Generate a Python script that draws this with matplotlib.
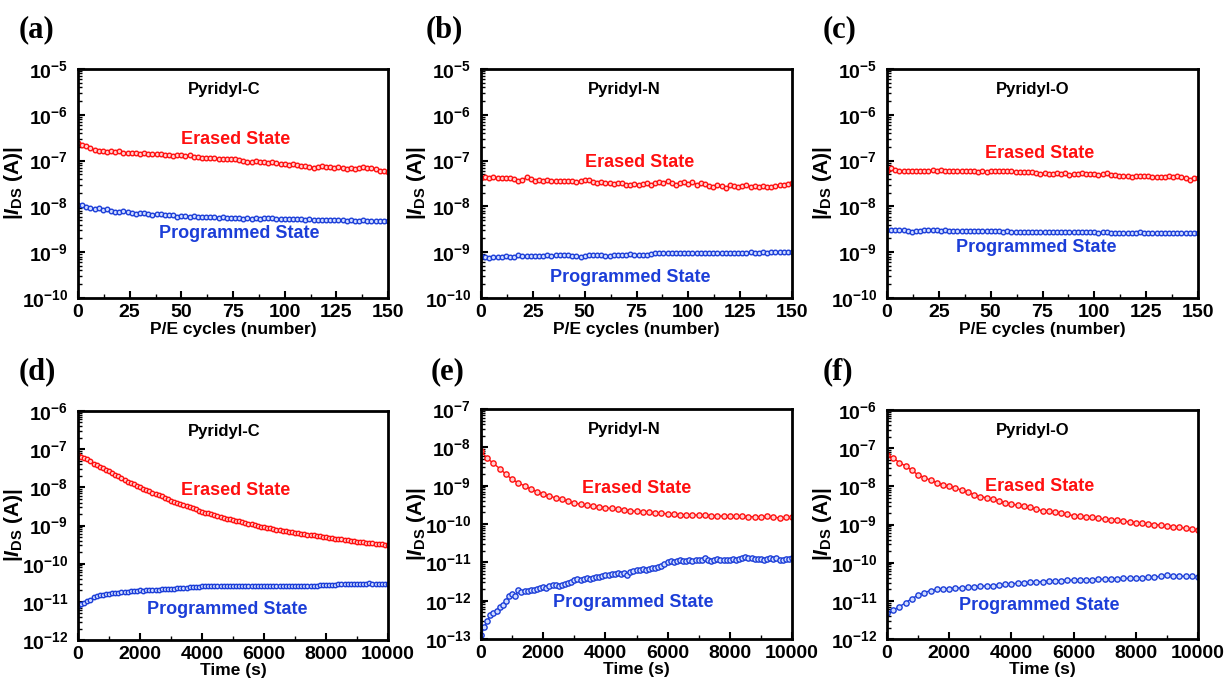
import numpy as np
import matplotlib
matplotlib.use("Agg")
import matplotlib.pyplot as plt
from matplotlib.ticker import MultipleLocator, FixedLocator, NullFormatter, FuncFormatter

plt.rcParams['font.family'] = ['Liberation Sans', 'DejaVu Sans']
plt.rcParams['font.weight'] = 'bold'
plt.rcParams['mathtext.fontset'] = 'custom'
plt.rcParams['mathtext.rm'] = 'Liberation Sans:bold'
plt.rcParams['mathtext.bf'] = 'Liberation Sans:bold'
plt.rcParams['mathtext.it'] = 'Liberation Sans:bold:italic'

# ---------------- data ----------------
cycles = np.arange(0, 151, 2)
time_100 = np.arange(0, 10001, 100)
time_200 = np.arange(0, 10001, 200)

a_erased = np.array([2.4, 2.2, 2.05, 1.9, 1.7, 1.6, 1.62, 1.58, 1.6, 1.55, 1.6, 1.5, 1.45, 1.48, 1.46, 1.42,
    1.45, 1.4, 1.38, 1.42, 1.36, 1.34, 1.3, 1.28, 1.32, 1.3, 1.28, 1.3, 1.22, 1.18, 1.15, 1.12, 1.14, 1.12,
    1.1, 1.08, 1.1, 1.06, 1.08, 1.02, 0.96, 0.92, 0.95, 0.97, 0.94, 0.92, 0.9, 0.92, 0.88, 0.85, 0.84, 0.82,
    0.86, 0.8, 0.78, 0.76, 0.74, 0.7, 0.72, 0.75, 0.74, 0.72, 0.7, 0.72, 0.68, 0.66, 0.68, 0.64, 0.7, 0.72,
    0.68, 0.7, 0.66, 0.6, 0.58, 0.55]) * 1e-7
a_programmed = np.array([11, 10.5, 9.8, 9.2, 8.6, 9.0, 8.4, 8.6, 7.8, 7.4, 7.6, 7.8, 7.5, 7.2, 6.9, 7.0, 7.1,
    6.9, 6.6, 6.8, 6.7, 6.5, 6.6, 6.4, 6.0, 6.2, 6.3, 6.0, 6.1, 5.9, 6.0, 5.8, 5.9, 5.8, 5.7, 5.8, 5.6, 5.7,
    5.5, 5.6, 5.3, 5.5, 5.4, 5.5, 5.4, 5.5, 5.6, 5.5, 5.4, 5.3, 5.3, 5.2, 5.3, 5.2, 5.2, 5.1, 5.2, 5.1, 5.1,
    5.0, 5.1, 5.0, 5.0, 5.1, 5.0, 4.9, 5.0, 4.9, 4.9, 5.0, 4.9, 4.9, 4.8, 4.9, 4.8, 4.8]) * 1e-9

b_erased = np.array([4.2, 4.3, 4.1, 4.4, 4.2, 4.1, 4.2, 4.1, 3.9, 3.5, 3.8, 4.3, 4.0, 3.6, 3.7, 3.6, 3.7,
    3.5, 3.6, 3.5, 3.6, 3.5, 3.6, 3.4, 3.5, 3.7, 3.8, 3.4, 3.3, 3.4, 3.3, 3.2, 3.1, 3.3, 3.2, 3.0, 2.9, 3.1,
    3.0, 3.1, 3.2, 3.0, 3.2, 3.4, 3.3, 3.6, 3.2, 3.0, 3.3, 3.4, 3.1, 3.4, 3.0, 3.2, 3.1, 2.8, 2.6, 3.0, 2.8,
    2.5, 2.9, 2.8, 2.6, 2.8, 2.9, 2.7, 2.8, 2.6, 2.8, 2.7, 2.6, 2.8, 2.9, 3.0, 3.1, 3.2]) * 1e-8
b_programmed = np.array([8.3, 8.0, 7.5, 8.0, 7.9, 8.0, 8.1, 8.0, 7.7, 8.6, 8.4, 8.2, 8.3, 8.3, 8.4, 8.3,
    8.5, 8.4, 8.5, 8.6, 8.5, 8.5, 8.4, 8.3, 7.8, 8.2, 8.6, 8.5, 8.8, 8.6, 8.4, 8.2, 8.5, 8.6, 8.7, 8.8, 9.0,
    8.7, 8.8, 8.9, 8.8, 9.1, 9.4, 9.5, 9.4, 9.5, 9.6, 9.5, 9.6, 9.5, 9.6, 9.7, 9.6, 9.7, 9.6, 9.7, 9.8, 9.7,
    9.6, 9.7, 9.8, 9.7, 9.8, 9.7, 9.8, 9.9, 9.8, 9.8, 9.9, 9.8, 9.9, 10.0, 9.9, 10.0, 10.0, 10.0]) * 1e-10

c_erased = np.array([6.0, 6.8, 6.2, 5.8, 6.0, 5.9, 6.0, 5.9, 6.0, 5.9, 5.9, 6.1, 6.0, 6.1, 6.0, 5.9, 5.9,
    5.8, 5.9, 5.9, 5.8, 5.8, 5.6, 5.9, 5.7, 5.8, 5.8, 5.8, 5.9, 6.0, 5.8, 5.7, 5.5, 5.5, 5.5, 5.6, 5.4, 5.2,
    5.3, 5.2, 5.2, 5.3, 5.2, 5.4, 4.9, 5.1, 5.2, 5.3, 5.0, 5.0, 5.0, 4.9, 5.0, 5.3, 4.8, 4.9, 4.6, 4.6, 4.6,
    4.3, 4.5, 4.6, 4.5, 4.6, 4.4, 4.3, 4.4, 4.3, 4.5, 4.4, 4.5, 4.3, 4.1, 3.8, 4.1, 4.2]) * 1e-8
c_programmed = np.array([3.1, 3.1, 3.0, 3.0, 3.0, 2.9, 2.8, 2.9, 2.9, 3.1, 3.1, 3.1, 3.0, 2.9, 3.0, 2.9,
    2.9, 2.9, 2.9, 2.9, 2.9, 2.9, 2.9, 2.85, 2.85, 2.85, 2.85, 2.85, 2.8, 2.85, 2.8, 2.8, 2.75, 2.8, 2.7,
    2.75, 2.75, 2.7, 2.7, 2.7, 2.7, 2.7, 2.7, 2.7, 2.7, 2.7, 2.7, 2.75, 2.7, 2.7, 2.7, 2.65, 2.7, 2.7, 2.65,
    2.65, 2.6, 2.65, 2.6, 2.6, 2.65, 2.7, 2.65, 2.6, 2.6, 2.65, 2.6, 2.6, 2.6, 2.65, 2.6, 2.6, 2.6, 2.6,
    2.6, 2.65]) * 1e-9

d_erased = np.array([70, 64, 59, 54, 48, 42, 39, 35, 32, 29, 26,
    23.5, 21.5, 19.5, 17.5, 15.5, 14.2, 13, 11.9, 10.9, 10,
    9.3, 8.6, 7.9, 7.3, 6.8, 6.3, 5.8, 5.3, 4.9, 4.5,
    4.2, 3.95, 3.7, 3.45, 3.25, 3.05, 2.85, 2.65, 2.45, 2.3,
    2.18, 2.07, 1.96, 1.86, 1.77, 1.68, 1.6, 1.52, 1.45, 1.38,
    1.33, 1.28, 1.22, 1.17, 1.12, 1.07, 1.03, 0.98, 0.94, 0.90,
    0.87, 0.84, 0.81, 0.78, 0.75, 0.72, 0.70, 0.68, 0.66, 0.64,
    0.625, 0.61, 0.595, 0.58, 0.565, 0.55, 0.535, 0.52, 0.505, 0.49,
    0.478, 0.466, 0.454, 0.442, 0.43, 0.419, 0.408, 0.397, 0.386, 0.375,
    0.368, 0.361, 0.354, 0.347, 0.34, 0.334, 0.328, 0.322, 0.316, 0.31]) * 1e-9
d_programmed = np.array([0.8, 0.9, 0.95, 1.05, 1.15, 1.3, 1.4, 1.5, 1.55, 1.6, 1.65,
    1.7, 1.72, 1.75, 1.78, 1.8, 1.85, 1.88, 1.9, 1.95, 2.0,
    1.98, 2.02, 2.05, 2.03, 2.08, 2.1, 2.12, 2.15, 2.18, 2.2,
    2.22, 2.28, 2.3, 2.32, 2.36, 2.4, 2.42, 2.45, 2.48, 2.55,
    2.58, 2.6, 2.6, 2.58, 2.6, 2.62, 2.6, 2.58, 2.6, 2.62,
    2.6, 2.58, 2.6, 2.62, 2.6, 2.58, 2.6, 2.6, 2.62, 2.6,
    2.58, 2.6, 2.62, 2.6, 2.58, 2.6, 2.6, 2.62, 2.6, 2.58,
    2.6, 2.62, 2.65, 2.62, 2.6, 2.62, 2.65, 2.7, 2.72, 2.75,
    2.78, 2.8, 2.82, 2.85, 2.88, 2.9, 2.92, 2.95, 2.98, 3.0,
    3.02, 3.0, 3.02, 3.05, 3.02, 3.0, 3.02, 2.95, 2.9, 2.85]) * 1e-11

e_erased = np.array([79, 52, 38, 28, 20, 14.5, 12, 9.8, 8.2, 7.0, 6.0,
    5.4, 4.8, 4.4, 3.9, 3.5, 3.3, 3.1, 2.9, 2.8, 2.65,
    2.55, 2.45, 2.35, 2.2, 2.15, 2.1, 2.05, 1.95, 1.9, 1.85,
    1.8, 1.75, 1.75, 1.72, 1.7, 1.72, 1.65, 1.62, 1.6, 1.6,
    1.58, 1.6, 1.55, 1.55, 1.55, 1.58, 1.5, 1.45, 1.48, 1.5]) * 1e-10
e_programmed = np.array([0.125, 0.2, 0.29, 0.42, 0.47, 0.55, 0.68, 0.78, 1.0, 1.3, 1.5,
    1.35, 1.9, 1.7, 1.8, 1.75, 1.9, 1.95, 2.0, 2.1, 2.3,
    2.2, 2.4, 2.5, 2.6, 2.4, 2.55, 2.7, 2.9, 3.0, 3.4,
    3.6, 3.5, 3.7, 3.8, 3.6, 3.9, 4.1, 4.2, 4.4, 4.8,
    4.6, 4.9, 5.0, 5.2, 5.1, 5.3, 4.7, 5.5, 5.8, 6.2,
    6.4, 6.6, 6.5, 6.8, 7.0, 7.3, 7.6, 8.1, 9.0, 10.5,
    11.0, 10.5, 10.8, 11.2, 10.6, 11.0, 11.4, 11.0, 11.3, 11.6,
    11.2, 12.8, 11.4, 11.0, 11.8, 12.2, 11.5, 11.2, 11.6, 11.8,
    12.0, 11.6, 12.2, 12.6, 13.8, 13.2, 12.8, 12.4, 12.0, 12.2,
    11.8, 12.4, 12.8, 12.2, 12.6, 11.4, 11.8, 12.0, 12.4, 12.6]) * 1e-12

f_erased = np.array([67, 55, 42, 34, 26, 20, 17, 14.5, 12.5, 11, 10,
    9.0, 8.0, 7.0, 6.1, 5.4, 5.0, 4.6, 4.1, 3.7, 3.4,
    3.2, 3.0, 2.8, 2.5, 2.3, 2.2, 2.1, 2.0, 1.85, 1.7,
    1.65, 1.6, 1.55, 1.45, 1.38, 1.33, 1.28, 1.22, 1.17, 1.12,
    1.08, 1.04, 1.0, 0.96, 0.92, 0.88, 0.84, 0.8, 0.76, 0.72]) * 1e-9
f_programmed = np.array([0.49, 0.58, 0.7, 0.9, 1.15, 1.4, 1.65, 1.85, 2.0, 2.05, 2.1,
    2.15, 2.2, 2.25, 2.3, 2.4, 2.45, 2.5, 2.6, 2.7, 2.8,
    2.9, 3.0, 3.05, 3.1, 3.2, 3.3, 3.35, 3.4, 3.45, 3.5,
    3.55, 3.55, 3.6, 3.65, 3.7, 3.75, 3.8, 3.85, 3.9, 4.0,
    4.05, 4.1, 4.2, 4.4, 4.7, 4.5, 4.4, 4.4, 4.35, 4.3]) * 1e-11

panel_letters = ['(a)', '(b)', '(c)', '(d)', '(e)', '(f)']
materials = ['Pyridyl-C', 'Pyridyl-N', 'Pyridyl-O', 'Pyridyl-C', 'Pyridyl-N', 'Pyridyl-O']
y_decades = [(-10, -5), (-10, -5), (-10, -5), (-12, -6), (-13, -7), (-12, -6)]

RED = '#ff1010'
BLUE = '#1c3ed8'

# ---------------- figure ----------------
W, H = 1225, 684
fig = plt.figure(figsize=(W / 100, H / 100), dpi=100)

def px_axes(left, top, right, bottom):
    return fig.add_axes([left / W, 1 - bottom / H, (right - left) / W, (bottom - top) / H])

axes = [
    px_axes(78, 69, 388, 298), px_axes(481, 69, 792, 298), px_axes(887, 69, 1198, 298),
    px_axes(78, 411, 388, 640), px_axes(481, 409, 792, 639), px_axes(887, 410, 1198, 639),
]

series = [
    (cycles, a_erased, cycles, a_programmed),
    (cycles, b_erased, cycles, b_programmed),
    (cycles, c_erased, cycles, c_programmed),
    (time_100, d_erased, time_100, d_programmed),
    (time_200, e_erased, time_100, e_programmed),
    (time_200, f_erased, time_200, f_programmed),
]
marker_sizes = [3.3, 3.3, 3.3, 3.2, 3.8, 3.8]

# text positions (axes fraction)
name_pos = [(0.47, 0.91), (0.46, 0.91), (0.47, 0.91), (0.47, 0.91), (0.46, 0.91), (0.47, 0.91)]
erased_pos = [(0.51, 0.69), (0.51, 0.59), (0.49, 0.63), (0.51, 0.655), (0.50, 0.655), (0.49, 0.665)]
prog_pos = [(0.52, 0.28), (0.48, 0.09), (0.48, 0.22), (0.48, 0.135), (0.49, 0.16), (0.49, 0.145)]
letter_xy = [(36, 30), (444, 30), (840, 30), (37, 372), (448, 372), (838, 372)]

def logfmt(v, pos):
    e = int(round(np.log10(v)))
    return r'$\mathbf{10^{%d}}$' % e

for i, ax in enumerate(axes):
    xe, ye, xp, yp = series[i]
    ms = marker_sizes[i]
    ax.plot(xe, ye, '-o', color=RED, lw=1.0, ms=ms, mfc='#ffd0d0', mec=RED, mew=1.0)
    ax.plot(xp, yp, '-o', color=BLUE, lw=1.0, ms=ms, mfc='#d0dcff', mec=BLUE, mew=1.0)
    ax.set_yscale('log')
    lo, hi = y_decades[i]
    ax.set_ylim(10.0 ** lo, 10.0 ** hi)
    majors = [10.0 ** k for k in range(lo, hi + 1)]
    minors = [m * 10.0 ** k for k in range(lo, hi) for m in range(2, 10)]
    ax.yaxis.set_major_locator(FixedLocator(majors))
    ax.yaxis.set_minor_locator(FixedLocator(minors))
    ax.yaxis.set_major_formatter(FuncFormatter(logfmt))
    ax.yaxis.set_minor_formatter(NullFormatter())
    if i < 3:
        ax.set_xlim(0, 150)
        ax.xaxis.set_major_locator(FixedLocator([0, 25, 50, 75, 100, 125, 150]))
        ax.xaxis.set_minor_locator(FixedLocator([12.5, 37.5, 62.5, 87.5, 112.5, 137.5]))
        ax.set_xlabel('P/E cycles (number)', fontsize=12.5, fontweight='bold', labelpad=1)
    else:
        ax.set_xlim(0, 10000)
        ax.xaxis.set_major_locator(FixedLocator([0, 2000, 4000, 6000, 8000, 10000]))
        ax.xaxis.set_minor_locator(FixedLocator([1000, 3000, 5000, 7000, 9000]))
        ax.set_xlabel('Time (s)', fontsize=12.5, fontweight='bold', labelpad=0)
    ax.tick_params(which='major', direction='in', length=5, width=1.5, labelsize=14, pad=4)
    ax.tick_params(axis='y', which='major', labelsize=14, pad=7)
    ax.tick_params(which='minor', direction='in', length=3, width=1.0)
    for sp in ax.spines.values():
        sp.set_linewidth(2)
    for lab in ax.get_xticklabels():
        lab.set_fontweight('bold')
    ax.set_ylabel(r'|$\mathit{I}_{\mathbf{DS}}$ (A)|', fontsize=15, fontweight='bold', labelpad=0)
    ax.yaxis.set_label_coords(-0.17, 0.5)
    ax.text(*name_pos[i], materials[i], transform=ax.transAxes, ha='center', va='center',
            fontsize=12, fontweight='bold', color='black')
    ax.text(*erased_pos[i], 'Erased State', transform=ax.transAxes, ha='center', va='center',
            fontsize=13, fontweight='bold', color=RED)
    ax.text(*prog_pos[i], 'Programmed State', transform=ax.transAxes, ha='center', va='center',
            fontsize=13, fontweight='bold', color=BLUE)
    lx, ly = letter_xy[i]
    fig.text(lx / W, 1 - ly / H, panel_letters[i], ha='center', va='center', fontsize=22,
             fontweight='bold', family='Liberation Serif')

fig.savefig('out.png', dpi=100)
